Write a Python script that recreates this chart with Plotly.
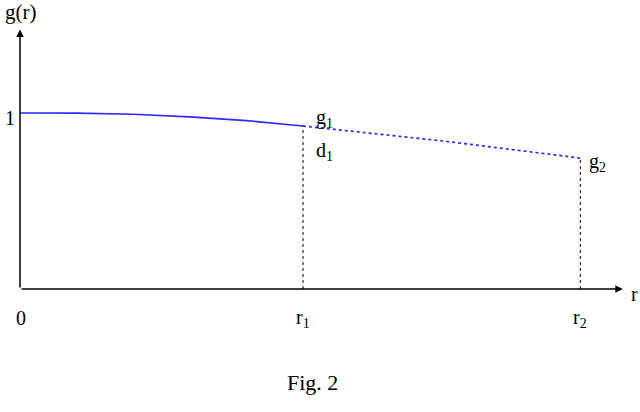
import plotly.graph_objects as go

# data
r_solid = [0.0, 0.2, 0.4, 0.6, 0.8, 1.0]
g_solid = [1.0, 0.999, 0.993, 0.978, 0.957, 0.926]
r_dot = [1.0, 1.25, 1.5, 1.75, 1.98]
g_dot = [0.926, 0.885, 0.84, 0.79, 0.744]
r_marks = [0.0, 1.0, 1.98]
r_labels = ["0", "r<sub>1</sub>", "r<sub>2</sub>"]

FONT = "Liberation Serif"
BLUE = "#2b2bff"

fig = go.Figure()
fig.add_trace(go.Scatter(x=r_solid, y=g_solid, mode="lines",
                         line=dict(color=BLUE, width=1.7), hoverinfo="skip"))
fig.add_trace(go.Scatter(x=r_dot, y=g_dot, mode="lines",
                         line=dict(color=BLUE, width=1.7, dash="dot"), hoverinfo="skip"))
# vertical dotted droplines
for rx, gy in [(r_dot[0], g_dot[0]), (r_dot[-1], g_dot[-1])]:
    fig.add_trace(go.Scatter(x=[rx, rx], y=[0, gy], mode="lines",
                             line=dict(color="black", width=1, dash="dot"), hoverinfo="skip"))

# axes with arrows
fig.add_annotation(x=0, y=1.475, ax=0, ay=0, xref="x", yref="y", axref="x", ayref="y",
                   showarrow=True, arrowhead=2, arrowsize=1, arrowwidth=1.5, arrowcolor="black", text="")
fig.add_annotation(x=2.13, y=0, ax=0, ay=0, xref="x", yref="y", axref="x", ayref="y",
                   showarrow=True, arrowhead=2, arrowsize=1, arrowwidth=1.5, arrowcolor="black", text="")

def txt(x, y, s, size=20, xanchor="center", yanchor="middle"):
    fig.add_annotation(x=x, y=y, xref="x", yref="y", text=s, showarrow=False,
                       font=dict(family=FONT, size=size, color="black"),
                       xanchor=xanchor, yanchor=yanchor)

txt(0.0, 1.575, "g(r)", size=21)
txt(-0.035, 0.97, "1")
txt(2.17, -0.03, "r")
for rx, lab in zip(r_marks, r_labels):
    txt(rx + (0.005 if rx == 0 else 0.0), -0.165, lab)
txt(1.075, 0.97, "g<sub>1</sub>")
txt(1.075, 0.78, "d<sub>1</sub>")
txt(2.04, 0.72, "g<sub>2</sub>")
txt(1.035, -0.53, "Fig. 2", size=22)

fig.update_layout(
    width=640, height=412,
    margin=dict(l=0, r=0, t=0, b=0),
    paper_bgcolor="white", plot_bgcolor="white",
    showlegend=False,
    xaxis=dict(range=[-20/283, 620/283], visible=False, fixedrange=True),
    yaxis=dict(range=[-123/176, 289/176], visible=False, fixedrange=True),
)
fig.write_html("out.html", config={"displayModeBar": False},
               post_script="document.body.style.margin='0';document.body.style.overflow='hidden';")
